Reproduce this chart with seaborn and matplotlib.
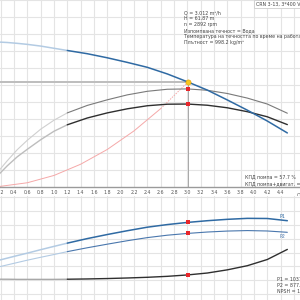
import numpy as np
import pandas as pd
import matplotlib
matplotlib.use("Agg")
import matplotlib.pyplot as plt
import seaborn as sns

sns.set_style("white")
plt.rcParams['font.family'] = ['DejaVu Sans']

# ---------------- data ----------------
q = [0.15, 0.3, 0.45, 0.6, 0.8, 1.0, 1.2, 1.5, 1.8, 2.1, 2.4, 2.7, 3.0, 3.3, 3.6, 3.9, 4.2, 4.5]
head = [85.3, 85.0, 84.5, 83.9, 82.9, 81.6, 80.3, 78.4, 76.0, 73.3, 70.4, 66.5, 61.9, 57.0, 51.2, 45.2, 38.8, 31.8]
eta_pump = [8.5, 15.5, 22.0, 27.5, 34.0, 39.3, 43.6, 48.0, 51.3, 54.2, 56.3, 57.5, 57.7, 56.9, 55.0, 52.3, 48.8, 43.4]
eta_total = [6.5, 12.5, 17.8, 22.2, 27.8, 32.8, 36.6, 40.6, 43.6, 46.0, 47.8, 48.7, 48.8, 48.1, 46.6, 44.3, 41.3, 36.7]
p1 = [483, 520, 557, 592, 642, 690, 737, 803, 862, 917, 968, 1006, 1037, 1062, 1082, 1096, 1094, 1062]
p2 = [388, 422, 456, 490, 532, 572, 614, 670, 722, 772, 817, 852, 877.5, 898, 912, 919, 913, 894]
npsh = [1.07, 1.07, 1.06, 1.06, 1.06, 1.06, 1.07, 1.09, 1.12, 1.16, 1.21, 1.28, 1.38, 1.52, 1.75, 2.05, 2.50, 3.23]

q_sys = [0.15, 0.6, 1.0, 1.4, 1.8, 2.2, 2.6, 3.012]
h_sys = [0.15, 2.5, 6.8, 13.4, 22.1, 33.0, 46.1, 61.87]

duty_q = 3.012
duty_h = 61.87
duty_eta_pump = 57.7
duty_eta_total = 48.8
duty_p1 = 1037
duty_p2 = 877.5
duty_npsh = 1.38

x_ticks = [0.2, 0.4, 0.6, 0.8, 1.0, 1.2, 1.4, 1.6, 1.8, 2.0, 2.2, 2.4,
           2.6, 2.8, 3.0, 3.2, 3.4, 3.6, 3.8, 4.0, 4.2, 4.4]
x_tick_labels = [f"{v:.1f}" for v in x_ticks]

info_lines = ["Q = 3.012 m³/h", "H = 61.87 m", "n = 2892 rpm",
              "Изпомпвана течност = Вода",
              "Температура на течността по време на работа = 20 °C",
              "Плътност = 998.2 kg/m³"]
eff_lines = ["КПД помпа = 57.7 %", "КПД помпа+двигат. = 48.8 %"]
pow_lines = ["P1 = 1037 W", "P2 = 877.5 W", "NPSH = 1.38 m"]
title_text = "CRN 3-13, 3*400 V, 50Hz"

# ---------------- figure ----------------
W = H = 300
fig = plt.figure(figsize=(3, 3), dpi=100)
fig.patch.set_facecolor("white")

XL = (0.19, 4.69)
grid_c = "#e4e4e4"
FS = 3.4
txt_c = "#444444"

ax1 = fig.add_axes([0, 1 - 187 / H, 1, 187 / H])
ax2 = fig.add_axes([0, 0, 1, 104 / H])
ax3 = fig.add_axes([0, 0, 1, 104 / H], frameon=False)
ax3.patch.set_alpha(0)

for ax in (ax1, ax2, ax3):
    ax.set_xlim(*XL)
    for s in ax.spines.values():
        s.set_visible(False)
    ax.set_yticks([])
ax1.set_facecolor("white")
ax2.set_facecolor("white")

ax1.set_ylim(0, 110)
ax2.set_ylim(-87, 1420)
ax3.set_ylim(-87 / 200, 1420 / 200)

# grids
for xv in np.arange(0.2, 4.75, 0.2):
    ax1.axvline(xv, color=grid_c, lw=0.8, zorder=0)
    ax2.axvline(xv, color=grid_c, lw=0.8, zorder=0)
for yv in range(10, 111, 10):
    ax1.axhline(yv, color=grid_c, lw=0.8, zorder=0)
for yv in range(0, 1401, 200):
    ax2.axhline(yv, color=grid_c, lw=0.8, zorder=0)

ax1.spines['bottom'].set_visible(True)
ax1.spines['bottom'].set_color("#9a9a9a")
ax1.spines['bottom'].set_linewidth(1.0)

ax1.set_xticks(x_ticks)
ax1.set_xticklabels(x_tick_labels)
ax1.tick_params(axis='x', length=0, pad=2.2, labelsize=FS, colors="#555555")
ax2.set_xticks([])
ax3.set_xticks([])
ax1.text(4.645, -0.028, "Q [m³/h]", transform=ax1.get_xaxis_transform(),
         fontsize=FS, color="#555555", ha='left', va='top')

df = pd.DataFrame({"Q": q, "head": head, "eta_pump": eta_pump, "eta_total": eta_total,
                   "p1": p1, "p2": p2, "npsh": npsh})
lo = df[df.Q <= 1.2]
hi = df[df.Q >= 1.2]


def split(ax, col, light, dark, lw, z=3):
    sns.lineplot(data=lo, x="Q", y=col, ax=ax, color=light, lw=lw, estimator=None, zorder=z)
    sns.lineplot(data=hi, x="Q", y=col, ax=ax, color=dark, lw=lw, estimator=None, zorder=z)


# duty guide lines
ax1.hlines(duty_h, XL[0], duty_q, color="#bdbdbd", lw=1.4, zorder=1)
ax1.vlines(duty_q, 0, duty_h, color="#a8a8a8", lw=0.7, zorder=1)

# system curve
sysdf = pd.DataFrame({"Q": q_sys, "H": h_sys})
sns.lineplot(data=sysdf[sysdf.Q <= 2.6], x="Q", y="H", ax=ax1, color="#f5a8a8",
             lw=0.7, estimator=None, zorder=2)
sns.lineplot(data=sysdf[sysdf.Q >= 2.6], x="Q", y="H", ax=ax1, color="#f5a8a8",
             lw=0.7, estimator=None, zorder=2, linestyle=(0, (1.5, 1.2)))

split(ax1, "eta_pump", "#cfcfcf", "#7a7a7a", 0.8)
split(ax1, "eta_total", "#bdbdbd", "#2f2f2f", 1.0)
split(ax1, "head", "#b3cbe3", "#2f6aa3", 1.1, z=4)

mk = pd.DataFrame({"Q": [duty_q, duty_q], "v": [duty_eta_pump, duty_eta_total]})
sns.scatterplot(data=mk, x="Q", y="v", ax=ax1, marker='s', s=5, color="#e8262b",
                linewidth=0, zorder=6)
sns.scatterplot(x=[duty_q], y=[duty_h], ax=ax1, marker='o', s=14, color="#f7c81e",
                edgecolor="#e39b00", linewidth=0.4, zorder=7)

# bottom panel
split(ax2, "p1", "#b3cbe3", "#2f6aa3", 1.1)
split(ax2, "p2", "#b3cbe3", "#4a77ad", 0.8)
split(ax3, "npsh", "#a8a8a8", "#2f2f2f", 1.0)
mk2 = pd.DataFrame({"Q": [duty_q, duty_q], "v": [duty_p1, duty_p2]})
sns.scatterplot(data=mk2, x="Q", y="v", ax=ax2, marker='s', s=5, color="#e8262b",
                linewidth=0, zorder=6)
sns.scatterplot(x=[duty_q], y=[duty_npsh], ax=ax3, marker='s', s=5, color="#e8262b",
                linewidth=0, zorder=6)
for ax in (ax1, ax2, ax3):
    ax.set_xlim(*XL)
    ax.set_xlabel("")
    ax.set_ylabel("")
ax3.set_ylim(-87 / 200, 1420 / 200)

ax2.text(4.43, p1[-2] + 26, "P1", fontsize=FS, color="#2f6aa3", ha='center', va='center')
ax2.text(4.43, p2[-2] - 83, "P2", fontsize=FS, color="#4a77ad", ha='center', va='center')

# text annotations
for i, t in enumerate(info_lines):
    fig.text(184 / W, 1 - (12.7 + 6.0 * i) / H, t, fontsize=FS, color=txt_c,
             ha='left', va='center')
for i, t in enumerate(eff_lines):
    fig.text(245 / W, 1 - (176.7 + 6.6 * i) / H, t, fontsize=FS, color=txt_c,
             ha='left', va='center')
for i, t in enumerate(pow_lines):
    fig.text(276.7 / W, 1 - (279.3 + 5.9 * i) / H, t, fontsize=FS, color=txt_c,
             ha='left', va='center')
fig.text(256 / W, 1 - 4.0 / H, title_text, fontsize=FS, color=txt_c, ha='left', va='center',
         bbox=dict(boxstyle="square,pad=0.35", fc="white", ec="#cccccc", lw=0.6))

fig.savefig("out.png", dpi=100, facecolor="white")
